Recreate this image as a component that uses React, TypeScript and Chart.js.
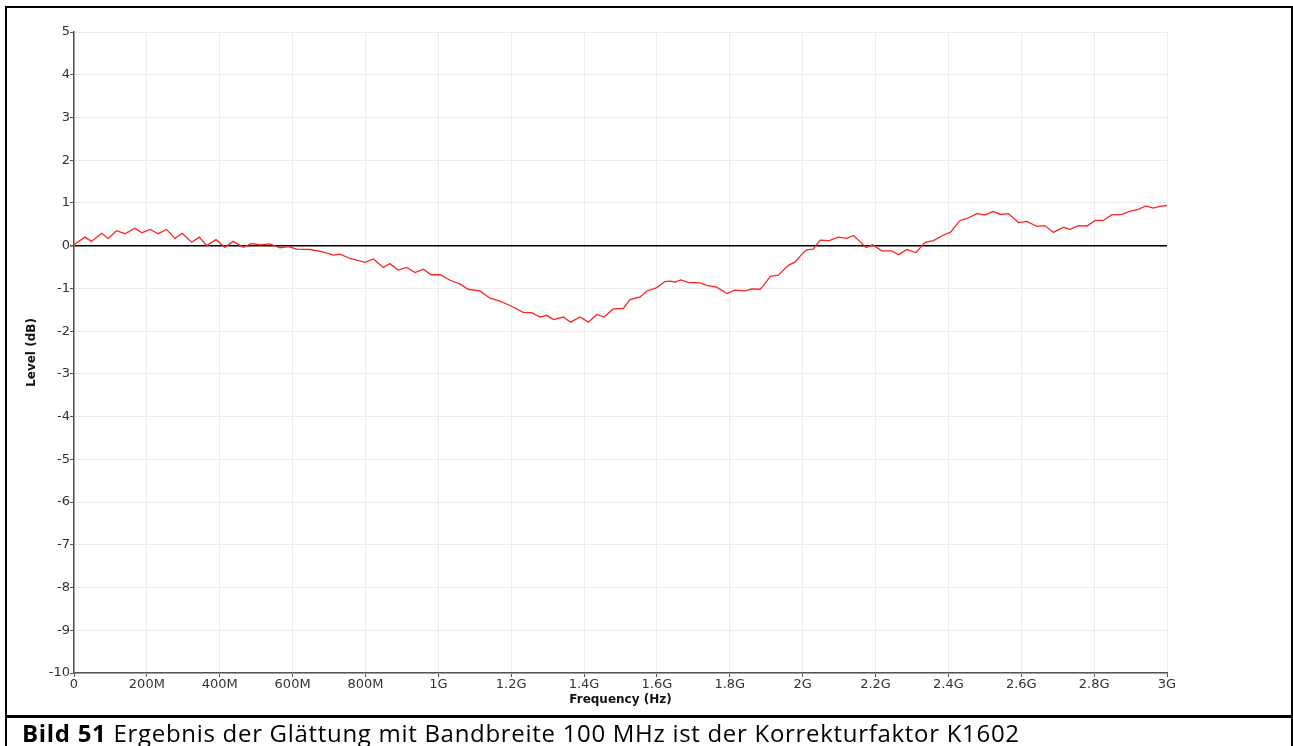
import React, { useEffect, useRef } from "react";
import { Chart, registerables } from "chart.js";

Chart.register(...registerables);

// Frequency in MHz
const freqMHz = [
  0, 30, 48, 76, 94, 117, 140, 167, 186, 209, 231, 254, 277, 297, 323, 344, 364, 390, 414, 437,
  465, 488, 511, 538, 565, 588, 611, 648, 680, 712, 730, 758, 799, 822, 849, 867, 890, 913, 936, 959,
  980, 1005, 1032, 1060, 1082, 1114, 1142, 1169, 1197, 1233, 1256, 1279, 1297, 1316, 1343, 1363, 1389, 1412, 1435, 1455,
  1480, 1508, 1526, 1554, 1572, 1600, 1622, 1636, 1650, 1665, 1686, 1718, 1737, 1764, 1792, 1814, 1842, 1860, 1883, 1892,
  1911, 1933, 1961, 1979, 2000, 2011, 2029, 2048, 2073, 2098, 2121, 2139, 2153, 2174, 2192, 2217, 2244, 2263, 2286, 2311,
  2336, 2359, 2387, 2405, 2432, 2450, 2478, 2501, 2523, 2542, 2565, 2592, 2615, 2643, 2665, 2688, 2716, 2734, 2757, 2780,
  2803, 2825, 2848, 2876, 2899, 2921, 2942, 2962, 2981, 3000,
];

// Level in dB
const levelDb = [
  0.02, 0.2, 0.1, 0.29, 0.17, 0.35, 0.28, 0.41, 0.3, 0.38, 0.28, 0.38, 0.17, 0.29, 0.08, 0.2, 0.0, 0.14, -0.04, 0.1,
  -0.04, 0.05, 0.02, 0.04, -0.05, -0.02, -0.08, -0.09, -0.14, -0.22, -0.2, -0.3, -0.39, -0.31, -0.51, -0.42, -0.57, -0.51, -0.63, -0.55,
  -0.68, -0.68, -0.81, -0.9, -1.02, -1.06, -1.23, -1.3, -1.4, -1.56, -1.57, -1.67, -1.63, -1.73, -1.67, -1.79, -1.67, -1.79, -1.61, -1.67,
  -1.48, -1.47, -1.26, -1.2, -1.06, -0.98, -0.84, -0.83, -0.85, -0.8, -0.86, -0.87, -0.93, -0.97, -1.12, -1.04, -1.06, -1.01, -1.02, -0.94,
  -0.72, -0.69, -0.46, -0.38, -0.18, -0.1, -0.08, 0.13, 0.12, 0.2, 0.17, 0.24, 0.13, -0.04, 0.02, -0.12, -0.12, -0.21, -0.09, -0.16,
  0.08, 0.12, 0.25, 0.31, 0.59, 0.63, 0.75, 0.72, 0.8, 0.73, 0.75, 0.54, 0.57, 0.45, 0.47, 0.31, 0.43, 0.38, 0.47, 0.46,
  0.59, 0.59, 0.72, 0.73, 0.81, 0.85, 0.93, 0.88, 0.92, 0.94,
];

const xMin = 0;
const xMax = 3000;
const xStep = 200;
const yMin = -10;
const yMax = 5;
const yStep = 1;
const referenceLevel = 0;

const xTitle = "Frequency (Hz)";
const yTitle = "Level (dB)";
const captionBold = "Bild 51";
const captionRest = " Ergebnis der Glättung mit Bandbreite 100 MHz ist der Korrekturfaktor K1602";

function fmtFreq(v: number): string {
  if (v === 0) return "0";
  if (v >= 1000) return `${+(v / 1000).toFixed(1)}G`;
  return `${v}M`;
}

const tickFont = { family: "'DejaVu Sans', sans-serif", size: 13 };
const titleFont = { family: "'DejaVu Sans', sans-serif", size: 12, weight: "bold" as const };

function ChartCanvas() {
  const ref = useRef<HTMLCanvasElement | null>(null);
  useEffect(() => {
    if (!ref.current) return;
    const points = freqMHz.map((f, i) => ({ x: f, y: levelDb[i] }));
    const chart = new Chart(ref.current, {
      type: "line",
      data: {
        datasets: [
          {
            data: points,
            borderColor: "#ff2323",
            borderWidth: 1.3,
            pointRadius: 0,
            tension: 0,
            fill: false,
          },
        ],
      },
      options: {
        animation: false,
        responsive: false,
        devicePixelRatio: 1,
        events: [],
        plugins: { legend: { display: false }, tooltip: { enabled: false } },
        layout: { padding: { left: 0, right: 126, top: 32, bottom: 38 } },
        scales: {
          x: {
            type: "linear",
            min: xMin,
            max: xMax,
            ticks: {
              stepSize: xStep,
              callback: (v: any) => fmtFreq(Number(v)),
              font: tickFont,
              color: "#333",
              padding: 0,
              maxRotation: 0,
              autoSkip: false,
            },
            grid: { color: "#ececec", tickColor: "#555", tickLength: 4 },
            border: { color: "#555", width: 1.5 },
            title: {
              display: true,
              text: xTitle,
              font: titleFont,
              color: "#111",
              padding: { top: 0, bottom: 1 },
            },
            afterFit: (s: any) => {
              s.height = 35;
            },
          },
          y: {
            type: "linear",
            min: yMin,
            max: yMax,
            ticks: {
              stepSize: yStep,
              font: tickFont,
              color: "#333",
              padding: 0,
            },
            grid: {
              color: (ctx: any) => (ctx.tick && ctx.tick.value === referenceLevel ? "#000" : "#ececec"),
              lineWidth: (ctx: any) => (ctx.tick && ctx.tick.value === referenceLevel ? 1.6 : 1),
              tickColor: "#555",
              tickLength: 4,
            },
            border: { color: "#555", width: 1.5 },
            title: {
              display: true,
              text: yTitle,
              font: titleFont,
              color: "#111",
              padding: { top: 25, bottom: 0 },
            },
            afterFit: (s: any) => {
              s.width = 74;
            },
          },
        },
      },
    });
    return () => chart.destroy();
  }, []);
  return (
    <canvas
      ref={ref}
      width={1293}
      height={746}
      style={{ position: "absolute", left: 0, top: 0, width: 1293, height: 746 }}
    />
  );
}

export default function App() {
  return (
    <div
      style={{
        position: "fixed",
        left: 0,
        top: 0,
        width: 1293,
        height: 746,
        overflow: "hidden",
        background: "#fff",
      }}
    >
      <div
        style={{
          position: "absolute",
          left: 5,
          top: 6,
          width: 1288,
          height: 800,
          border: "2px solid #000",
          boxSizing: "border-box",
        }}
      />
      <div
        style={{
          position: "absolute",
          left: 5,
          top: 715,
          width: 1288,
          height: 2.5,
          background: "#000",
        }}
      />
      <ChartCanvas />
      <div
        style={{
          position: "absolute",
          left: 22,
          top: 721,
          fontFamily: "'Open Sans', Lato, sans-serif",
          fontSize: 24,
          lineHeight: "24px",
          letterSpacing: "0.7px",
          color: "#000",
          whiteSpace: "nowrap",
        }}
      >
        <b>{captionBold}</b>
        {captionRest}
      </div>
    </div>
  );
}
